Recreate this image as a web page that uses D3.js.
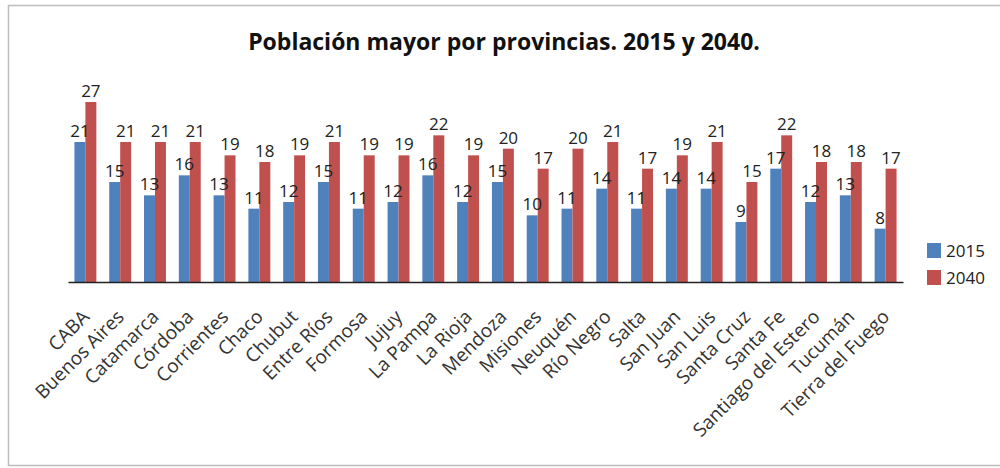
<!DOCTYPE html>
<html>
<head>
<meta charset="utf-8">
<script src="https://cdnjs.cloudflare.com/ajax/libs/d3/7.8.5/d3.min.js"></script>
<style>
    body { margin: 0; background: #fff; }
    svg { display: block; }
</style>
</head>
<body>
<div id="graph"></div>
<script>
'use strict';

const provincias = ['CABA', 'Buenos Aires', 'Catamarca', 'Córdoba', 'Corrientes', 'Chaco', 'Chubut',
    'Entre Ríos', 'Formosa', 'Jujuy', 'La Pampa', 'La Rioja', 'Mendoza', 'Misiones', 'Neuquén',
    'Río Negro', 'Salta', 'San Juan', 'San Luis', 'Santa Cruz', 'Santa Fe', 'Santiago del Estero',
    'Tucumán', 'Tierra del Fuego'];
const series = ['2015', '2040'];
const valores2015 = [21, 15, 13, 16, 13, 11, 12, 15, 11, 12, 16, 12, 15, 10, 11, 14, 11, 14, 14, 9, 17, 12, 13, 8];
const valores2040 = [27, 21, 21, 21, 19, 18, 19, 21, 19, 19, 22, 19, 20, 17, 20, 21, 17, 19, 21, 15, 22, 18, 18, 17];
const colores = ['#4F81BD', '#C0504D'];

const width = 1000;
const height = 468;
const font = 'Open Sans, sans-serif';

const svg = d3.select('#graph')
    .append('svg')
    .attr('width', width)
    .attr('height', height);

// chart frame
svg.append('rect')
    .attr('x', 8.5).attr('y', 5.5)
    .attr('width', 1000).attr('height', 460)
    .attr('fill', 'none')
    .attr('stroke', '#bdbdbd')
    .attr('stroke-width', 1.5);

svg.append('text')
    .attr('x', 504)
    .attr('y', 50)
    .attr('text-anchor', 'middle')
    .style('font', 'bold 23px ' + font)
    .attr('fill', '#111')
    .text('Población mayor por provincias. 2015 y 2040.');

const data = provincias.map((p, i) => ({ name: p, values: [valores2015[i], valores2040[i]] }));

const x = d3.scaleBand()
    .domain(provincias)
    .range([68, 903])
    .paddingInner(0.37)
    .paddingOuter(0.185);

const xs = d3.scaleBand()
    .domain(series)
    .range([0, x.bandwidth()]);

const y = d3.scaleLinear()
    .domain([0, 30])
    .range([282, 82]);

const groups = svg.append('g')
    .selectAll('g')
    .data(data)
    .join('g')
    .attr('transform', d => `translate(${x(d.name)},0)`);

groups.selectAll('rect')
    .data(d => d.values.map((v, i) => ({ serie: series[i], value: v, color: colores[i] })))
    .join('rect')
    .attr('x', d => xs(d.serie))
    .attr('y', d => y(d.value))
    .attr('width', xs.bandwidth())
    .attr('height', d => y(0) - y(d.value))
    .attr('fill', d => d.color);

groups.selectAll('text')
    .data(d => d.values.map((v, i) => ({ serie: series[i], value: v })))
    .join('text')
    .attr('x', d => xs(d.serie) + xs.bandwidth() / 2)
    .attr('y', d => y(d.value) - 5)
    .attr('text-anchor', 'middle')
    .style('font', '17px ' + font)
    .attr('fill', '#222')
    .text(d => d.value);

// x axis
const axis = svg.append('g')
    .attr('transform', `translate(0,${y(0)})`)
    .call(d3.axisBottom(x).tickSize(0).tickPadding(0));

axis.select('.domain')
    .attr('stroke', '#222')
    .attr('stroke-width', 1.5);

axis.selectAll('.tick text')
    .style('font', '19px ' + font)
    .attr('fill', '#333')
    .attr('text-anchor', 'end')
    .attr('dy', null)
    .attr('transform', 'translate(5,36) rotate(-45)');

// legend
const legend = svg.append('g')
    .selectAll('g')
    .data(series)
    .join('g')
    .attr('transform', (d, i) => `translate(927,${243 + i * 27})`);

legend.append('rect')
    .attr('width', 14)
    .attr('height', 15)
    .attr('fill', (d, i) => colores[i]);

legend.append('text')
    .attr('x', 19)
    .attr('y', 14)
    .style('font', '17px ' + font)
    .attr('fill', '#222')
    .text(d => d);
</script>
</body>
</html>
